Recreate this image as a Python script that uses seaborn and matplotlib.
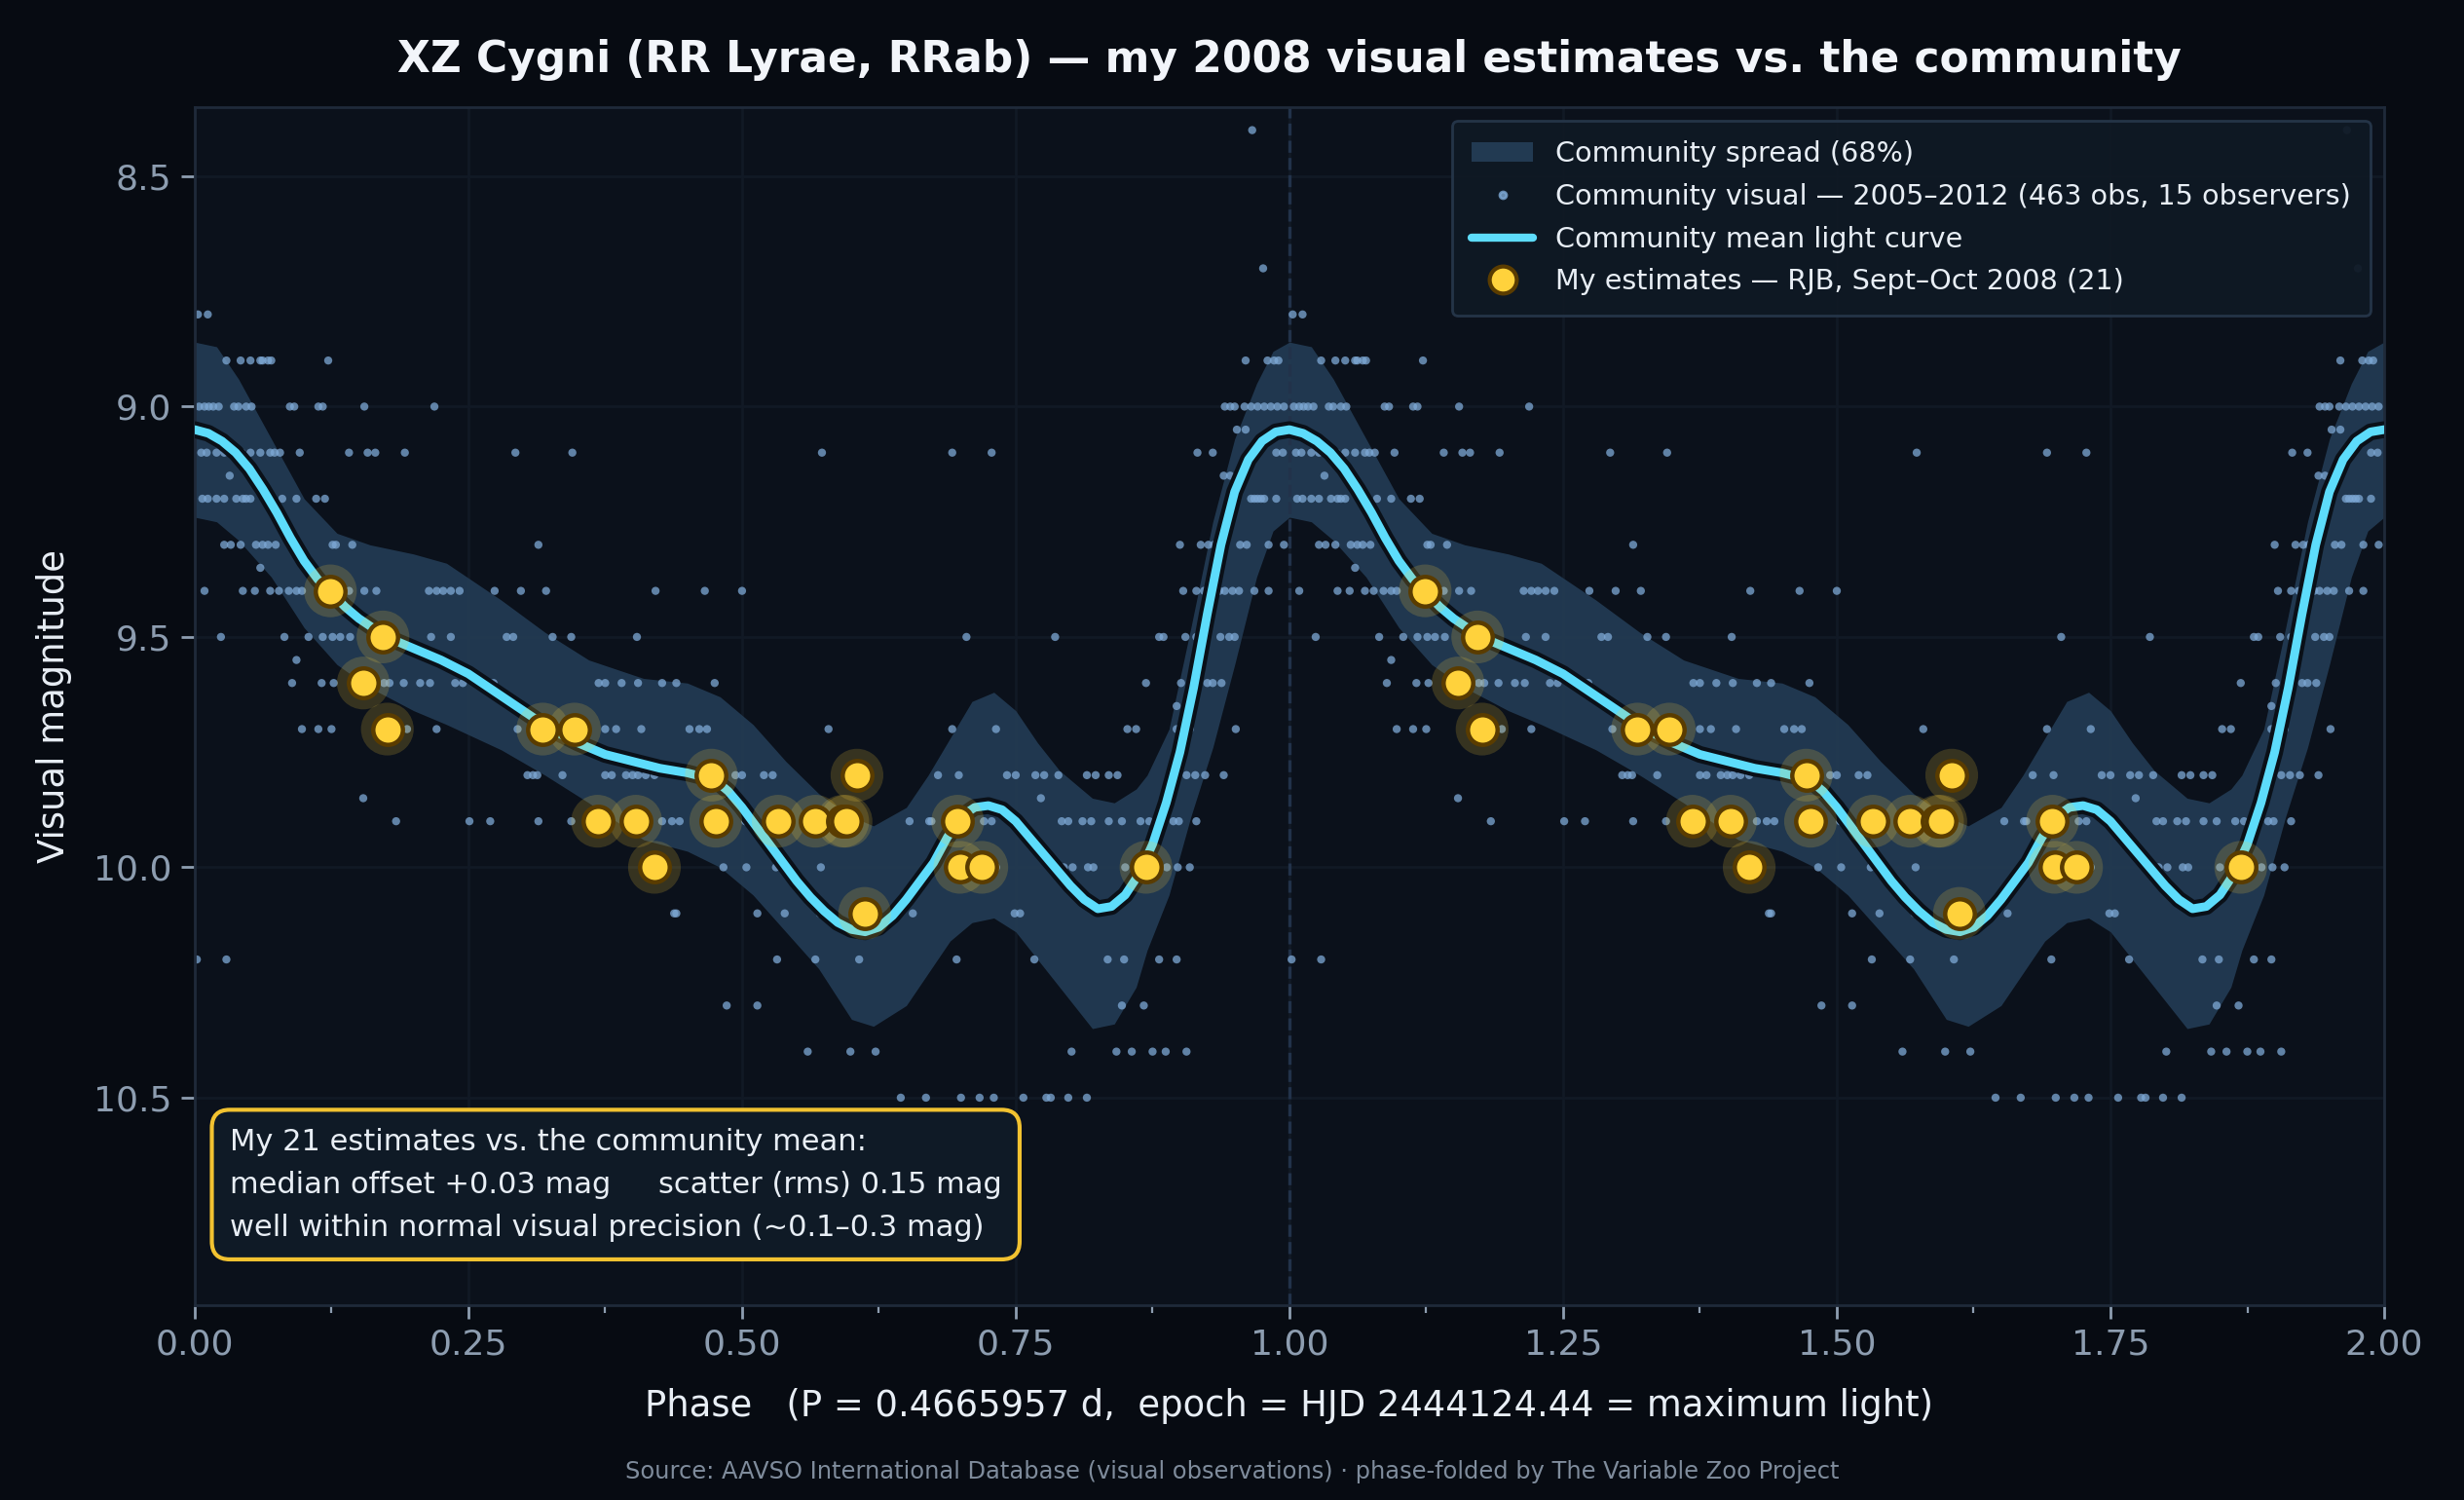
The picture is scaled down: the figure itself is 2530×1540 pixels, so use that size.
import matplotlib.pyplot as plt
import matplotlib.patheffects as pe
from matplotlib.lines import Line2D
from matplotlib.patches import Patch
from matplotlib.ticker import MultipleLocator, FormatStrFormatter
import pandas as pd
import seaborn as sns

# community visual estimates (phase-folded, one cycle), one list of phases per magnitude row
comm_mags = [8.4, 8.7, 8.8, 8.9, 9.0, 9.05, 9.1, 9.15, 9.2, 9.3, 9.35, 9.4, 9.5, 9.55,
             9.6, 9.65, 9.7, 9.8, 9.85, 9.9, 10.0, 10.1, 10.2, 10.3, 10.4, 10.5]
comm_phases = [
    [.966],
    [.976],
    [.003, .012],
    [.029, .042, .051, .060, .062, .067, .070, .122, .960, .980, .986, .990],
    [.004, .009, .013, .017, .022, .036, .040, .047, .052, .087, .091, .113, .117, .155, .219,
     .941, .946, .950, .959, .965, .971, .977, .983, .989, .995],
    [.952, .960],
    [.006, .011, .020, .027, .033, .043, .051, .060, .069, .073, .078, .096, .141, .158, .165,
     .192, .293, .345, .573, .692, .728, .916, .930, .988, .994],
    [.032, .940, .946],
    [.007, .012, .020, .027, .038, .044, .047, .051, .069, .080, .093, .111, .119, .949, .965,
     .968, .971, .974, .977, .988],
    [.027, .033, .042, .056, .062, .067, .074, .126, .129, .144, .314, .900, .919, .926, .931,
     .955, .961, .981, .995],
    [.060],
    [.009, .044, .055, .069, .077, .086, .093, .098, .141, .155, .166, .214, .221, .227, .234,
     .242, .274, .298, .321, .421, .466, .500, .903, .915, .922, .936, .941, .948, .954, .968, .981],
    [.024, .082, .104, .117, .126, .133, .142, .216, .234, .285, .291, .327, .344, .404, .705,
     .786, .881, .885, .905, .915, .937, .945, .950],
    [.093],
    [.089, .116, .127, .173, .178, .191, .206, .215, .238, .245, .269, .273, .369, .375, .390,
     .405, .427, .440, .475, .869, .901, .915, .925, .930, .938],
    [.897],
    [.098, .113, .125, .194, .221, .295, .375, .385, .408, .452, .461, .468, .579, .692, .732,
     .852, .860, .897, .909, .951],
    [.304, .309, .313, .336, .375, .381, .394, .400, .405, .412, .420, .494, .500, .520, .528,
     .679, .698, .742, .750, .768, .776, .789, .815, .823, .835, .843, .906, .914, .923, .940],
    [.154, .773, .890],
    [.184, .251, .270, .314, .344, .427, .436, .443, .503, .653, .671, .673, .721, .728, .792,
     .798, .811, .819, .835, .847, .864, .872, .894, .899, .915],
    [.483, .504, .531, .572, .732, .794, .802, .816, .821, .850, .888, .898, .909],
    [.438, .440, .514, .539, .571, .656, .749, .754],
    [.002, .029, .532, .567, .607, .696, .767, .834, .849, .881, .897],
    [.486, .514, .847, .867],
    [.560, .599, .622, .801, .842, .856, .875, .887, .906],
    [.645, .668, .700, .717, .730, .757, .778, .782, .798, .815],
]

# community mean light curve
mean_phase = [0.0, 0.0125, 0.025, 0.0375, 0.05, 0.0625, 0.075, 0.0875, 0.1, 0.1125, 0.125,
              0.1375, 0.15, 0.175, 0.2, 0.225, 0.25, 0.275, 0.3, 0.325, 0.35, 0.375, 0.4,
              0.425, 0.45, 0.475, 0.4875, 0.5, 0.5125, 0.525, 0.5375, 0.55, 0.5625, 0.575,
              0.5875, 0.6, 0.6125, 0.625, 0.6375, 0.65, 0.6625, 0.675, 0.6875, 0.7, 0.7125,
              0.725, 0.7375, 0.75, 0.7625, 0.775, 0.7875, 0.8, 0.8125, 0.825, 0.8375, 0.85,
              0.8625, 0.875, 0.8875, 0.9, 0.9125, 0.925, 0.9375, 0.95, 0.9625, 0.975, 0.9875,
              1.0]
mean_mag = [9.05, 9.058, 9.075, 9.10, 9.135, 9.18, 9.23, 9.285, 9.335, 9.375, 9.405,
            9.435, 9.46, 9.50, 9.525, 9.55, 9.58, 9.62, 9.66, 9.70, 9.73, 9.755, 9.77,
            9.785, 9.795, 9.81, 9.835, 9.87, 9.91, 9.95, 9.99, 10.03, 10.065, 10.095,
            10.12, 10.135, 10.14, 10.13, 10.105, 10.07, 10.03, 9.99, 9.935, 9.89, 9.87,
            9.866, 9.875, 9.90, 9.935, 9.97, 10.005, 10.04, 10.07, 10.09, 10.085, 10.06,
            10.015, 9.95, 9.86, 9.75, 9.61, 9.45, 9.30, 9.185, 9.115, 9.075, 9.055, 9.05]

# 68% spread band
band_phase = [0.0, 0.02, 0.04, 0.07, 0.10, 0.13, 0.16, 0.20, 0.23, 0.28, 0.32, 0.36, 0.41,
              0.45, 0.48, 0.51, 0.54, 0.57, 0.60, 0.62, 0.65, 0.67, 0.69, 0.71, 0.73, 0.75,
              0.77, 0.79, 0.82, 0.84, 0.86, 0.87, 0.89, 0.91, 0.93, 0.95, 0.97, 0.985, 1.0]
band_bright = [8.86, 8.87, 8.94, 9.07, 9.20, 9.275, 9.30, 9.32, 9.34, 9.42, 9.49, 9.55, 9.59,
               9.60, 9.63, 9.69, 9.77, 9.84, 9.89, 9.91, 9.87, 9.80, 9.72, 9.64, 9.62, 9.66,
               9.73, 9.79, 9.85, 9.86, 9.83, 9.80, 9.70, 9.48, 9.25, 9.07, 8.95, 8.88, 8.86]
band_faint = [9.24, 9.25, 9.29, 9.37, 9.48, 9.56, 9.61, 9.66, 9.69, 9.745, 9.80, 9.86, 9.94,
              9.965, 10.00, 10.06, 10.14, 10.22, 10.33, 10.345, 10.30, 10.23, 10.16, 10.12,
              10.11, 10.14, 10.20, 10.26, 10.35, 10.34, 10.26, 10.18, 10.06, 9.89, 9.74,
              9.56, 9.37, 9.27, 9.24]

# my estimates (RJB, Sept-Oct 2008)
my_phase = [.124, .154, .172, .176, .318, .347, .368, .403, .420, .472, .476, .533, .567,
            .592, .595, .605, .612, .697, .699, .719, .869]
my_mag = [9.4, 9.6, 9.5, 9.7, 9.7, 9.7, 9.9, 9.9, 10.0, 9.8, 9.9, 9.9, 9.9,
          9.9, 9.9, 9.8, 10.1, 9.9, 10.0, 10.0, 10.0]

FIG_BG = '#070b12'
AX_BG = '#0b111b'
BAND = '#223a52'
DOT = '#7ea9d6'
CYAN = '#5ddcfb'
GOLD = '#ffd23c'
GOLD_EDGE = '#5a3c00'
TXT = '#e8eef5'
TICK = '#8d9db0'

rows = []
for m, ph in zip(comm_mags, comm_phases):
    for p in ph:
        rows.append({'phase': p, 'mag': m})
        rows.append({'phase': p + 1, 'mag': m})
comm = pd.DataFrame(rows)

mean_df = pd.DataFrame({'phase': mean_phase + [p + 1 for p in mean_phase[1:]],
                        'mag': mean_mag + mean_mag[1:]})
band_x = band_phase + [p + 1 for p in band_phase[1:]]
band_lo = band_bright + band_bright[1:]
band_hi = band_faint + band_faint[1:]
mine = pd.DataFrame({'phase': my_phase + [p + 1 for p in my_phase],
                     'mag': my_mag + my_mag})

sns.set_style('dark')
plt.rcParams['font.family'] = ['DejaVu Sans']

fig = plt.figure(figsize=(12.65, 7.7), dpi=200, facecolor=FIG_BG)
ax = fig.add_axes([0.079, 0.130, 0.8886, 0.7986])
ax.set_facecolor(AX_BG)

ax.fill_between(band_x, band_lo, band_hi, color=BAND, alpha=0.95, lw=0, zorder=1)
ax.axvline(1.0, color='#22324a', ls='--', lw=1.2, zorder=1.5)
sns.scatterplot(data=comm, x='phase', y='mag', ax=ax, s=9, color=DOT, alpha=0.75,
                edgecolor='none', zorder=2, legend=False)
sns.lineplot(data=mean_df, x='phase', y='mag', ax=ax, color=CYAN, lw=3.2, sort=False,
             estimator=None, zorder=3, legend=False,
             path_effects=[pe.Stroke(linewidth=6.2, foreground='#0a1018'), pe.Normal()])
sns.scatterplot(data=mine, x='phase', y='mag', ax=ax, s=380, color=GOLD, alpha=0.18,
                edgecolor='none', zorder=4, legend=False)
sns.scatterplot(data=mine, x='phase', y='mag', ax=ax, s=120, color=GOLD,
                edgecolor=GOLD_EDGE, linewidth=1.6, zorder=5, legend=False)

ax.set_xlim(0, 2)
ax.set_ylim(10.95, 8.35)
ax.xaxis.set_major_locator(MultipleLocator(0.25))
ax.xaxis.set_minor_locator(MultipleLocator(0.125))
ax.xaxis.set_major_formatter(FormatStrFormatter('%.2f'))
ax.set_yticks([8.5, 9.0, 9.5, 10.0, 10.5])
ax.yaxis.set_major_formatter(FormatStrFormatter('%.1f'))
ax.grid(True, which='major', color='#111925', lw=1)
ax.tick_params(axis='both', which='major', colors=TICK, labelsize=13, length=5, width=1,
               bottom=True, left=True)
ax.tick_params(axis='x', which='minor', colors=TICK, length=3, width=0.8, bottom=True)
for s in ax.spines.values():
    s.set_color('#1f2a3a')
    s.set_linewidth(1)

ax.set_xlabel('Phase   (P = 0.4665957 d,  epoch = HJD 2444124.44 = maximum light)',
              color=TXT, fontsize=13.3, labelpad=10)
ax.set_ylabel('Visual magnitude', color=TXT, fontsize=13.3, labelpad=8)
ax.set_title('XZ Cygni (RR Lyrae, RRab) \u2014 my 2008 visual estimates vs. the community',
             color='#f2f5fa', fontsize=15.8, fontweight='bold', pad=13)

handles = [
    Patch(facecolor=BAND, edgecolor='none'),
    Line2D([], [], marker='o', ls='', ms=2.5, color=DOT, alpha=0.8),
    Line2D([], [], color=CYAN, lw=3),
    Line2D([], [], marker='o', ls='', ms=10, mfc=GOLD, mec=GOLD_EDGE, mew=1.5),
]
labels = ['Community spread (68%)',
          'Community visual \u2014 2005\u20132012 (463 obs, 15 observers)',
          'Community mean light curve',
          'My estimates \u2014 RJB, Sept\u2013Oct 2008 (21)']
leg = ax.legend(handles, labels, loc='upper right', fontsize=10.3, frameon=True,
                facecolor='#0f1924', edgecolor='#26364a', framealpha=0.95,
                labelcolor=TXT, labelspacing=0.55, borderpad=0.7, handlelength=2.2)
leg.set_zorder(10)

ax.text(0.016, 0.053,
        'My 21 estimates vs. the community mean:\n'
        'median offset +0.03 mag     scatter (rms) 0.15 mag\n'
        'well within normal visual precision (~0.1\u20130.3 mag)',
        transform=ax.transAxes, ha='left', va='bottom', fontsize=11, color=TXT,
        linespacing=1.65, zorder=10,
        bbox=dict(boxstyle='round,pad=0.6', facecolor='#0f1a26', edgecolor='#f2c230', lw=1.5))

fig.text(0.5, 0.011,
         'Source: AAVSO International Database (visual observations) \u00b7 phase-folded by The Variable Zoo Project',
         ha='center', va='bottom', fontsize=8.7, color='#7f8c9c')

fig.savefig('out.png', dpi=200, facecolor=FIG_BG)
